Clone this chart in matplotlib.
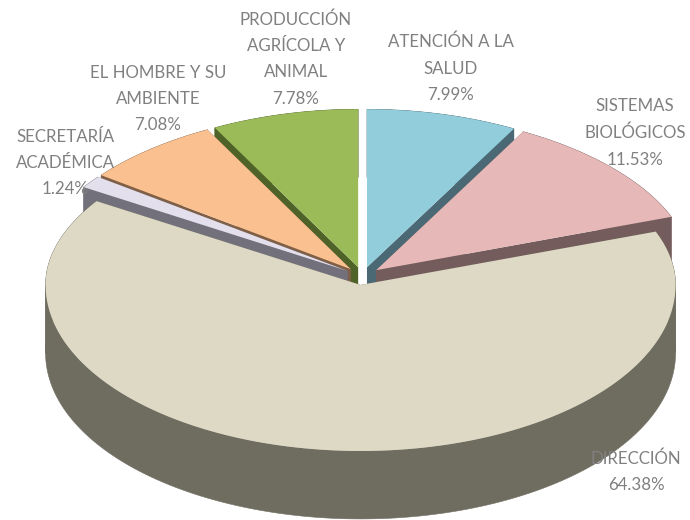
import matplotlib
matplotlib.use('Agg')
import matplotlib.pyplot as plt
import numpy as np

names = ['ATENCIÓN A LA\nSALUD', 'SISTEMAS\nBIOLÓGICOS', 'DIRECCIÓN',
         'SECRETARÍA\nACADÉMICA', 'EL HOMBRE Y SU\nAMBIENTE', 'PRODUCCIÓN\nAGRÍCOLA Y\nANIMAL']
shares = [7.99, 11.53, 64.38, 1.24, 7.08, 7.78]
top_colors = ['#92CDDC', '#E6B8B7', '#DDD9C4', '#E4DFEC', '#FBC08F', '#9BBB59']
wall_colors = ['#4A6975', '#745C5C', '#6F6D60', '#72707A', '#7F6046', '#4F6228']

# pixel geometry of the tilted pie
cx, cy = 362.5, 276
rx = 315
ry_back, ry_front = 158, 166
depth = 68
explode = 18
squash = 0.5
shrink_back = 0.04

label_pos = [(451, 68.5), (635, 133), (636, 472), (65, 163), (158, 99), (296, 59)]
# back wedges first, the big front one last
draw_order = [0, 5, 1, 4, 3, 2]

def wedge_outline(start, stop):
    deg = np.linspace(start, stop, max(int(stop - start) * 2, 6))
    a = np.radians(deg)
    mid = np.radians((start + stop) / 2)
    x0 = cx + explode * np.sin(mid)
    y0 = cy - explode * np.cos(mid) * squash
    ry = np.where(np.cos(a) > 0, ry_back, ry_front)
    scale = 1 - shrink_back * np.clip(np.cos(a), 0, 1) ** 2
    xs = x0 + rx * scale * np.sin(a)
    ys = y0 - ry * np.cos(a)
    return x0, y0, deg, xs, ys

def draw_wedge(ax, start, stop, top, wall):
    x0, y0, deg, xs, ys = wedge_outline(start, stop)
    # outer wall, split where the rim folds over at the left and right extremes
    cuts = [0] + [int(np.searchsorted(deg, d)) for d in (90, 270) if start < d < stop] + [len(deg)]
    for lo, hi in zip(cuts[:-1], cuts[1:]):
        px, py = xs[max(lo - 1, 0):hi], ys[max(lo - 1, 0):hi]
        ax.fill(np.r_[px, px[::-1]], np.r_[py, py[::-1] + depth], color=wall, lw=0.4)
    # cut faces
    for x1, y1 in [(xs[0], ys[0]), (xs[-1], ys[-1])]:
        ax.fill([x0, x1, x1, x0], [y0, y1, y1 + depth, y0 + depth], color=wall, lw=0)
    ax.fill(np.r_[x0, xs], np.r_[y0, ys], color=top, lw=0)

fig = plt.figure(figsize=(6.9, 5.2), dpi=100)
ax = fig.add_axes([0, 0, 1, 1])
ax.set_xlim(0, 690)
ax.set_ylim(520, 0)
ax.axis('off')

edges = np.r_[0, np.cumsum(shares)] * 360 / np.sum(shares)
for i in draw_order:
    draw_wedge(ax, edges[i], edges[i + 1], top_colors[i], wall_colors[i])

for name, share, pos in zip(names, shares, label_pos):
    ax.text(pos[0], pos[1], '%s\n%.2f%%' % (name, share), ha='center', va='center',
            family='Lato', fontsize=12.15, color='#808080', linespacing=1.8)

fig.savefig('out.png', dpi=100)
